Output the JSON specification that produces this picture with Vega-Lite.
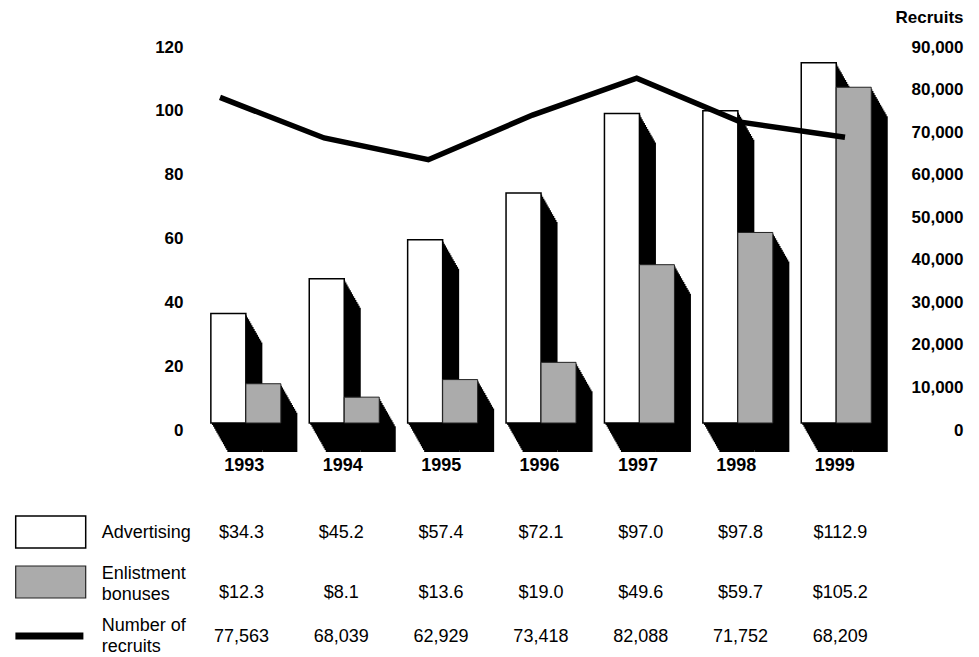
{
  "$schema": "https://vega.github.io/schema/vega-lite/v6.json",
  "width": 710,
  "height": 383,
  "autosize": "none",
  "padding": {"left": 195, "top": 40, "right": 74, "bottom": 234},
  "background": "white",
  "config": {
    "view": {"stroke": null},
    "font": "Liberation Sans",
    "axis": {"labelFont": "Liberation Sans", "titleFont": "Liberation Sans", "labelColor": "black", "titleColor": "black", "ticks": false, "domain": false, "grid": false}
  },
  "datasets": {
    "main": [
      {"year": 1993, "advertising": 34.3, "bonuses": 12.3, "recruits": 77563},
      {"year": 1994, "advertising": 45.2, "bonuses": 8.1, "recruits": 68039},
      {"year": 1995, "advertising": 57.4, "bonuses": 13.6, "recruits": 62929},
      {"year": 1996, "advertising": 72.1, "bonuses": 19.0, "recruits": 73418},
      {"year": 1997, "advertising": 97.0, "bonuses": 49.6, "recruits": 82088},
      {"year": 1998, "advertising": 97.8, "bonuses": 59.7, "recruits": 71752},
      {"year": 1999, "advertising": 112.9, "bonuses": 105.2, "recruits": 68209}
    ],
    "legend": [
      {"series": "Advertising", "label": "Advertising"},
      {"series": "Enlistment bonuses", "label": "Enlistment\nbonuses"},
      {"series": "Number of recruits", "label": "Number of\nrecruits"}
    ]
  },
  "data": {"name": "main"},
  "resolve": {"scale": {"x": "independent", "y": "independent"}, "axis": {"x": "independent", "y": "independent"}},
  "layer": [
    {
      "transform": [{"fold": ["advertising", "bonuses"], "as": ["series", "value"]}],
      "encoding": {
        "x": {"field": "year", "type": "quantitative", "scale": {"domain": [1992.534, 1999.648], "nice": false, "zero": false},
              "axis": {"orient": "bottom", "values": [1993, 1994, 1995, 1996, 1997, 1998, 1999], "format": "d", "labelFontSize": 18, "labelFontWeight": "bold", "labelPadding": 33, "labelOffset": -2, "labelFlush": false, "title": null}},
        "y": {"field": "value", "type": "quantitative", "scale": {"domain": [0, 120], "nice": false, "zero": true},
              "axis": {"orient": "left", "values": [0, 20, 40, 60, 80, 100, 120], "format": "d", "labelFontSize": 17, "labelFontWeight": "bold", "labelPadding": 12, "labelOffset": 7, "title": null}}
      },
      "layer": [
        {"transform": [{"filter": "datum.series == 'advertising'"}], "mark": {"type": "bar", "width": 35, "color": "black", "xOffset": -16.4, "yOffset": 1.93, "y2Offset": 1.93}},
        {"transform": [{"filter": "datum.series == 'advertising'"}], "mark": {"type": "bar", "width": 35, "color": "black", "xOffset": -15.3, "yOffset": 3.87, "y2Offset": 3.87}},
        {"transform": [{"filter": "datum.series == 'advertising'"}], "mark": {"type": "bar", "width": 35, "color": "black", "xOffset": -14.2, "yOffset": 5.8, "y2Offset": 5.8}},
        {"transform": [{"filter": "datum.series == 'advertising'"}], "mark": {"type": "bar", "width": 35, "color": "black", "xOffset": -13.1, "yOffset": 7.73, "y2Offset": 7.73}},
        {"transform": [{"filter": "datum.series == 'advertising'"}], "mark": {"type": "bar", "width": 35, "color": "black", "xOffset": -12.0, "yOffset": 9.67, "y2Offset": 9.67}},
        {"transform": [{"filter": "datum.series == 'advertising'"}], "mark": {"type": "bar", "width": 35, "color": "black", "xOffset": -10.9, "yOffset": 11.6, "y2Offset": 11.6}},
        {"transform": [{"filter": "datum.series == 'advertising'"}], "mark": {"type": "bar", "width": 35, "color": "black", "xOffset": -9.8, "yOffset": 13.53, "y2Offset": 13.53}},
        {"transform": [{"filter": "datum.series == 'advertising'"}], "mark": {"type": "bar", "width": 35, "color": "black", "xOffset": -8.7, "yOffset": 15.47, "y2Offset": 15.47}},
        {"transform": [{"filter": "datum.series == 'advertising'"}], "mark": {"type": "bar", "width": 35, "color": "black", "xOffset": -7.6, "yOffset": 17.4, "y2Offset": 17.4}},
        {"transform": [{"filter": "datum.series == 'advertising'"}], "mark": {"type": "bar", "width": 35, "color": "black", "xOffset": -6.5, "yOffset": 19.33, "y2Offset": 19.33}},
        {"transform": [{"filter": "datum.series == 'advertising'"}], "mark": {"type": "bar", "width": 35, "color": "black", "xOffset": -5.4, "yOffset": 21.27, "y2Offset": 21.27}},
        {"transform": [{"filter": "datum.series == 'advertising'"}], "mark": {"type": "bar", "width": 35, "color": "black", "xOffset": -4.3, "yOffset": 23.2, "y2Offset": 23.2}},
        {"transform": [{"filter": "datum.series == 'advertising'"}], "mark": {"type": "bar", "width": 35, "color": "black", "xOffset": -3.2, "yOffset": 25.13, "y2Offset": 25.13}},
        {"transform": [{"filter": "datum.series == 'advertising'"}], "mark": {"type": "bar", "width": 35, "color": "black", "xOffset": -2.1, "yOffset": 27.07, "y2Offset": 27.07}},
        {"transform": [{"filter": "datum.series == 'advertising'"}], "mark": {"type": "bar", "width": 35, "color": "black", "xOffset": -1.0, "yOffset": 29.0, "y2Offset": 29.0}},
        {"transform": [{"filter": "datum.series == 'bonuses'"}], "mark": {"type": "bar", "width": 35, "color": "black", "xOffset": 18.6, "yOffset": 1.93, "y2Offset": 1.93}},
        {"transform": [{"filter": "datum.series == 'bonuses'"}], "mark": {"type": "bar", "width": 35, "color": "black", "xOffset": 19.7, "yOffset": 3.87, "y2Offset": 3.87}},
        {"transform": [{"filter": "datum.series == 'bonuses'"}], "mark": {"type": "bar", "width": 35, "color": "black", "xOffset": 20.8, "yOffset": 5.8, "y2Offset": 5.8}},
        {"transform": [{"filter": "datum.series == 'bonuses'"}], "mark": {"type": "bar", "width": 35, "color": "black", "xOffset": 21.9, "yOffset": 7.73, "y2Offset": 7.73}},
        {"transform": [{"filter": "datum.series == 'bonuses'"}], "mark": {"type": "bar", "width": 35, "color": "black", "xOffset": 23.0, "yOffset": 9.67, "y2Offset": 9.67}},
        {"transform": [{"filter": "datum.series == 'bonuses'"}], "mark": {"type": "bar", "width": 35, "color": "black", "xOffset": 24.1, "yOffset": 11.6, "y2Offset": 11.6}},
        {"transform": [{"filter": "datum.series == 'bonuses'"}], "mark": {"type": "bar", "width": 35, "color": "black", "xOffset": 25.2, "yOffset": 13.53, "y2Offset": 13.53}},
        {"transform": [{"filter": "datum.series == 'bonuses'"}], "mark": {"type": "bar", "width": 35, "color": "black", "xOffset": 26.3, "yOffset": 15.47, "y2Offset": 15.47}},
        {"transform": [{"filter": "datum.series == 'bonuses'"}], "mark": {"type": "bar", "width": 35, "color": "black", "xOffset": 27.4, "yOffset": 17.4, "y2Offset": 17.4}},
        {"transform": [{"filter": "datum.series == 'bonuses'"}], "mark": {"type": "bar", "width": 35, "color": "black", "xOffset": 28.5, "yOffset": 19.33, "y2Offset": 19.33}},
        {"transform": [{"filter": "datum.series == 'bonuses'"}], "mark": {"type": "bar", "width": 35, "color": "black", "xOffset": 29.6, "yOffset": 21.27, "y2Offset": 21.27}},
        {"transform": [{"filter": "datum.series == 'bonuses'"}], "mark": {"type": "bar", "width": 35, "color": "black", "xOffset": 30.7, "yOffset": 23.2, "y2Offset": 23.2}},
        {"transform": [{"filter": "datum.series == 'bonuses'"}], "mark": {"type": "bar", "width": 35, "color": "black", "xOffset": 31.8, "yOffset": 25.13, "y2Offset": 25.13}},
        {"transform": [{"filter": "datum.series == 'bonuses'"}], "mark": {"type": "bar", "width": 35, "color": "black", "xOffset": 32.9, "yOffset": 27.07, "y2Offset": 27.07}},
        {"transform": [{"filter": "datum.series == 'bonuses'"}], "mark": {"type": "bar", "width": 35, "color": "black", "xOffset": 34.0, "yOffset": 29.0, "y2Offset": 29.0}},
        {"transform": [{"filter": "datum.series == 'advertising'"}], "mark": {"type": "bar", "width": 35, "fill": "white", "stroke": "black", "strokeWidth": 1.5, "xOffset": -17.5}},
        {"transform": [{"filter": "datum.series == 'bonuses'"}], "mark": {"type": "bar", "width": 35, "fill": "#ababab", "stroke": "#222222", "strokeWidth": 1, "xOffset": 17.5}}
      ]
    },
    {
      "mark": {"type": "line", "color": "black", "strokeWidth": 5.5, "yOffset": 4.5},
      "encoding": {
        "x": {"field": "year", "type": "quantitative", "scale": {"domain": [1992.76, 1999.576], "nice": false, "zero": false}, "axis": null},
        "y": {"field": "recruits", "type": "quantitative", "scale": {"domain": [0, 90000], "nice": false, "zero": true},
              "axis": {"orient": "right", "values": [0, 10000, 20000, 30000, 40000, 50000, 60000, 70000, 80000, 90000], "format": ",.0f", "labelAlign": "right", "labelPadding": 58, "labelOffset": 7, "labelFontSize": 17, "labelFontWeight": "bold",
                       "title": "Recruits", "titleAngle": 0, "titleAlign": "right", "titleX": 58, "titleY": -18, "titleBaseline": "alphabetic", "titleFontSize": 17, "titleFontWeight": "bold"}}
      }
    },
    {
      "layer": [
        {
          "data": {"name": "legend"},
          "transform": [{"filter": "datum.series == 'Advertising'"}],
          "mark": {"type": "point", "shape": "M-1,-0.457L1,-0.457L1,0.457L-1,0.457Z", "size": 4900, "filled": true, "fill": "white", "stroke": "black", "strokeWidth": 1.5, "opacity": 1, "xOffset": 8.8, "yOffset": -1},
          "encoding": {
            "x": {"datum": "swatch", "type": "ordinal", "scale": {"type": "point", "domain": ["swatch", "label", 1993, 1994, 1995, 1996, 1997, 1998, 1999], "range": [-153.1, 645.3], "padding": 0}, "axis": null},
            "y": {"field": "series", "type": "ordinal", "scale": {"type": "point", "domain": ["Advertising", "Enlistment bonuses", "Number of recruits"], "range": [493, 597], "padding": 0}, "axis": null}
          }
        },
        {
          "data": {"name": "legend"},
          "transform": [{"filter": "datum.series == 'Enlistment bonuses'"}],
          "mark": {"type": "point", "shape": "M-1,-0.457L1,-0.457L1,0.457L-1,0.457Z", "size": 4900, "filled": true, "fill": "#ababab", "stroke": "#222222", "strokeWidth": 1.2, "opacity": 1, "xOffset": 8.8, "yOffset": -3},
          "encoding": {
            "x": {"datum": "swatch", "type": "ordinal", "scale": {"type": "point", "domain": ["swatch", "label", 1993, 1994, 1995, 1996, 1997, 1998, 1999], "range": [-153.1, 645.3], "padding": 0}, "axis": null},
            "y": {"field": "series", "type": "ordinal", "scale": {"type": "point", "domain": ["Advertising", "Enlistment bonuses", "Number of recruits"], "range": [493, 597], "padding": 0}, "axis": null}
          }
        },
        {
          "data": {"name": "legend"},
          "transform": [{"filter": "datum.series == 'Number of recruits'"}],
          "mark": {"type": "point", "shape": "M-1,-0.1L1,-0.1L1,0.1L-1,0.1Z", "size": 4624, "filled": true, "fill": "black", "strokeWidth": 0, "opacity": 1, "xOffset": 7.5, "yOffset": -1},
          "encoding": {
            "x": {"datum": "swatch", "type": "ordinal", "scale": {"type": "point", "domain": ["swatch", "label", 1993, 1994, 1995, 1996, 1997, 1998, 1999], "range": [-153.1, 645.3], "padding": 0}, "axis": null},
            "y": {"field": "series", "type": "ordinal", "scale": {"type": "point", "domain": ["Advertising", "Enlistment bonuses", "Number of recruits"], "range": [493, 597], "padding": 0}, "axis": null}
          }
        },
        {
          "data": {"name": "legend"},
          "transform": [{"filter": "datum.series == 'Advertising'"}],
          "mark": {"type": "text", "font": "Liberation Sans", "fontSize": 18, "align": "left", "baseline": "middle", "dx": -40, "dy": 0, "color": "black"},
          "encoding": {
            "x": {"datum": "label", "type": "ordinal", "scale": {"type": "point", "domain": ["swatch", "label", 1993, 1994, 1995, 1996, 1997, 1998, 1999], "range": [-153.1, 645.3], "padding": 0}, "axis": null},
            "y": {"field": "series", "type": "ordinal", "scale": {"type": "point", "domain": ["Advertising", "Enlistment bonuses", "Number of recruits"], "range": [493, 597], "padding": 0}, "axis": null},
            "text": {"field": "label", "type": "nominal"}
          }
        },
        {
          "data": {"name": "legend"},
          "transform": [{"filter": "datum.series != 'Advertising'"}],
          "mark": {"type": "text", "font": "Liberation Sans", "fontSize": 18, "align": "left", "baseline": "middle", "lineBreak": "\n", "lineHeight": 21.5, "dx": -40, "dy": -11.5, "color": "black"},
          "encoding": {
            "x": {"datum": "label", "type": "ordinal", "scale": {"type": "point", "domain": ["swatch", "label", 1993, 1994, 1995, 1996, 1997, 1998, 1999], "range": [-153.1, 645.3], "padding": 0}, "axis": null},
            "y": {"field": "series", "type": "ordinal", "scale": {"type": "point", "domain": ["Advertising", "Enlistment bonuses", "Number of recruits"], "range": [493, 597], "padding": 0}, "axis": null},
            "text": {"field": "label", "type": "nominal"}
          }
        },
        {
          "mark": {"type": "text", "font": "Liberation Sans", "fontSize": 18, "align": "center", "baseline": "middle", "color": "black"},
          "encoding": {
            "x": {"field": "year", "type": "ordinal", "scale": {"type": "point", "domain": ["swatch", "label", 1993, 1994, 1995, 1996, 1997, 1998, 1999], "range": [-153.1, 645.3], "padding": 0}, "axis": null},
            "y": {"datum": "Advertising", "type": "ordinal", "scale": {"type": "point", "domain": ["Advertising", "Enlistment bonuses", "Number of recruits"], "range": [493, 597], "padding": 0}, "axis": null},
            "text": {"field": "advertising", "type": "quantitative", "format": "$.1f"}
          }
        },
        {
          "mark": {"type": "text", "font": "Liberation Sans", "fontSize": 18, "align": "center", "baseline": "middle", "dy": 8, "color": "black"},
          "encoding": {
            "x": {"field": "year", "type": "ordinal", "scale": {"type": "point", "domain": ["swatch", "label", 1993, 1994, 1995, 1996, 1997, 1998, 1999], "range": [-153.1, 645.3], "padding": 0}, "axis": null},
            "y": {"datum": "Enlistment bonuses", "type": "ordinal", "scale": {"type": "point", "domain": ["Advertising", "Enlistment bonuses", "Number of recruits"], "range": [493, 597], "padding": 0}, "axis": null},
            "text": {"field": "bonuses", "type": "quantitative", "format": "$.1f"}
          }
        },
        {
          "mark": {"type": "text", "font": "Liberation Sans", "fontSize": 18, "align": "center", "baseline": "middle", "color": "black"},
          "encoding": {
            "x": {"field": "year", "type": "ordinal", "scale": {"type": "point", "domain": ["swatch", "label", 1993, 1994, 1995, 1996, 1997, 1998, 1999], "range": [-153.1, 645.3], "padding": 0}, "axis": null},
            "y": {"datum": "Number of recruits", "type": "ordinal", "scale": {"type": "point", "domain": ["Advertising", "Enlistment bonuses", "Number of recruits"], "range": [493, 597], "padding": 0}, "axis": null},
            "text": {"field": "recruits", "type": "quantitative", "format": ",.0f"}
          }
        }
      ]
    }
  ]
}
